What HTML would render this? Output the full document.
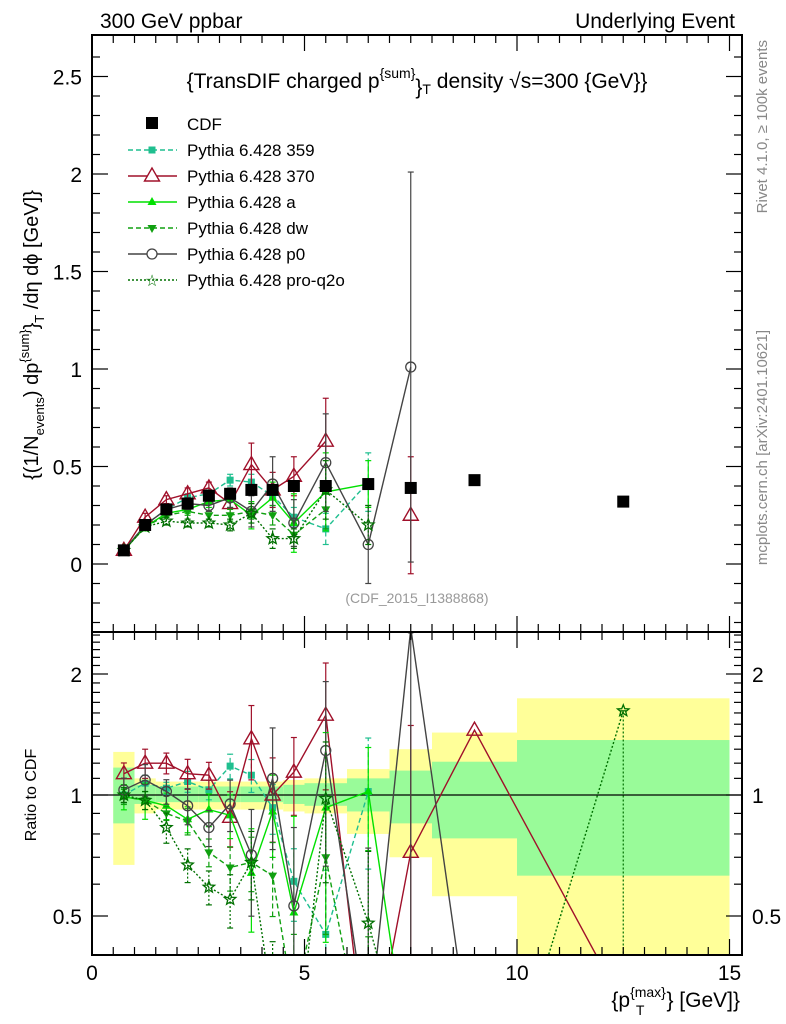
<!DOCTYPE html>
<html><head><meta charset="utf-8"><style>
html,body{margin:0;background:#fff;width:786px;height:1024px;overflow:hidden;position:relative}
svg{display:block;font-family:"Liberation Sans",sans-serif}
</style></head><body>
<svg id="c" width="786" height="1024" viewBox="0 0 786 1024" xmlns="http://www.w3.org/2000/svg" style="position:absolute;left:0;top:0"></svg>
<script>
const xs=[0.75,1.25,1.75,2.25,2.75,3.25,3.75,4.25,4.75,5.5,6.5,7.5,9,12.5];
const binLo=[0.5,1,1.5,2,2.5,3,3.5,4,4.5,5,6,7,8,10];
const binHi=[1,1.5,2,2.5,3,3.5,4,4.5,5,6,7,8,10,15];
const cdf=[0.07,0.20,0.28,0.31,0.35,0.36,0.38,0.38,0.40,0.40,0.41,0.39,0.43,0.32];
const bandGreenLo=[0.85,0.95,0.96,0.96,0.96,0.96,0.96,0.96,0.95,0.94,0.91,0.85,0.78,0.63];
const bandGreenHi=[1.17,1.06,1.05,1.05,1.05,1.05,1.05,1.05,1.06,1.07,1.10,1.15,1.21,1.37];
const bandYellowLo=[0.67,0.90,0.92,0.92,0.92,0.92,0.92,0.92,0.91,0.90,0.80,0.70,0.56,0.30];
const bandYellowHi=[1.28,1.10,1.08,1.08,1.08,1.08,1.08,1.08,1.09,1.10,1.16,1.30,1.43,1.74];
const m359=[0.07,0.20,0.28,0.34,0.36,0.43,0.42,0.35,0.24,0.18,0.42,null,null,null];
const m370=[0.07,0.24,0.33,0.36,0.39,0.31,0.51,0.38,0.45,0.63,null,0.25,null,null];
const mA=[0.07,0.19,0.26,0.28,0.32,0.33,0.25,0.34,0.21,0.37,0.41,null,null,null];
const mDW=[0.07,0.19,0.25,0.27,0.25,0.25,0.27,0.25,0.15,0.28,null,null,null,null];
const mP0=[0.07,0.20,0.28,0.31,0.30,0.34,0.27,0.41,0.21,0.52,0.10,1.01,null,null];
const mQ2O=[0.07,0.19,0.22,0.21,0.21,0.20,0.26,0.13,0.13,0.38,0.20,null,null,null];
const e359=[0.003,0.01,0.01,0.02,0.02,0.03,0.04,0.05,0.05,0.08,0.15,0,0,0];
const e370=[0.005,0.02,0.02,0.03,0.03,0.05,0.11,0.09,0.10,0.22,0,0.3,0,0];
const eA=[0.005,0.02,0.02,0.02,0.03,0.04,0.07,0.08,0.15,0.2,0.12,0,0,0];
const eDW=[0.003,0.01,0.01,0.02,0.02,0.03,0.04,0.05,0.06,0.1,0.1,0,0,0];
const eP0=[0.005,0.02,0.02,0.03,0.03,0.05,0.08,0.14,0.12,0.25,0.2,1.0,0,0];
const eQ2O=[0.003,0.01,0.02,0.02,0.02,0.03,0.05,0.05,0.05,0.15,0.1,0,0,0.5];
const r359=[1.00,1.07,1.04,1.08,1.03,1.18,1.12,0.93,0.61,0.45,1.02,null,null,null];
const r370=[1.13,1.20,1.20,1.13,1.12,0.88,1.38,1.00,1.14,1.58,0.2,0.72,1.45,0.3];
const rA=[0.99,0.97,0.94,0.87,0.92,0.89,0.64,0.91,0.51,0.93,1.02,0.2,null,null];
const rDW=[0.99,0.97,0.90,0.86,0.72,0.66,0.68,0.63,0.3,0.70,0.2,null,null,null];
const rP0=[1.03,1.09,1.02,0.94,0.83,0.95,0.71,1.10,0.53,1.29,0.25,2.6,0.2,null];
const rQ2O=[1.00,0.97,0.83,0.67,0.59,0.55,0.68,0.3,0.2,0.98,0.48,0.2,0.1,1.62];
const yTicks=[0,0.5,1,1.5,2,2.5];
const rTicks=[0.5,1,2];
const xTicks=[0,5,10,15];

const S=document.getElementById('c');const NS='http://www.w3.org/2000/svg';
function el(t,a,p){const e=document.createElementNS(NS,t);for(const k in a)e.setAttribute(k,a[k]);(p||S).appendChild(e);return e;}
const X0=92,X1=742;
const px=v=>92+v*42.5;
const py=v=>564-v*195;
const ry=v=>795-Math.log2(v)*121;
const MT=35,MB=632,RT=632,RB=955;
const defs=el('defs',{});
const c1=el('clipPath',{id:'cm'},defs);el('rect',{x:X0,y:MT,width:X1-X0,height:MB-MT},c1);
const c2=el('clipPath',{id:'cr'},defs);el('rect',{x:X0,y:RT,width:X1-X0,height:RB-RT},c2);
const gM=el('g',{'clip-path':'url(#cm)'});
const gR=el('g',{'clip-path':'url(#cr)'});
for(let i=0;i<xs.length;i++){
 const y=el('rect',{x:px(binLo[i]),width:px(binHi[i])-px(binLo[i]),y:ry(bandYellowHi[i]),height:ry(bandYellowLo[i])-ry(bandYellowHi[i]),fill:'#ffff99'},gR);
 
 const g=el('rect',{x:px(binLo[i]),width:px(binHi[i])-px(binLo[i]),y:ry(bandGreenHi[i]),height:ry(bandGreenLo[i])-ry(bandGreenHi[i]),fill:'#99fb99'},gR);
 
}
el('line',{x1:X0,x2:X1,y1:ry(1),y2:ry(1),stroke:'#000','stroke-width':1.3},gR);
function marker(g,type,x,y,col){
 let m;
 if(type=='sq')m=el('rect',{x:x-6,y:y-6,width:12,height:12,fill:col},g);
 else if(type=='ssq')m=el('rect',{x:x-3.5,y:y-3.5,width:7,height:7,fill:col},g);
 else if(type=='otri')m=el('polygon',{points:`${x},${y-8} ${x-7.5},${y+5} ${x+7.5},${y+5}`,fill:'none',stroke:col,'stroke-width':1.4},g);
 else if(type=='tri')m=el('polygon',{points:`${x},${y-5} ${x-4.5},${y+3} ${x+4.5},${y+3}`,fill:col},g);
 else if(type=='dtri')m=el('polygon',{points:`${x},${y+5} ${x-4.5},${y-3} ${x+4.5},${y-3}`,fill:col},g);
 else if(type=='circ')m=el('circle',{cx:x,cy:y,r:5,fill:'none',stroke:col,'stroke-width':1.3},g);
 else if(type=='star'){let p=[];for(let k=0;k<10;k++){const r=k%2?2.6:6,a=-Math.PI/2+k*Math.PI/5;p.push((x+r*Math.cos(a)).toFixed(1)+','+(y+r*Math.sin(a)).toFixed(1));}
  m=el('polygon',{points:p.join(' '),fill:'none',stroke:col,'stroke-width':1.3},g);}
 
}
const series=[
 {n:'pythia-359',m:m359,r:r359,e:e359,col:'#1fbf8f',dash:'5,3',mk:'ssq'},
 {n:'pythia-370',m:m370,r:r370,e:e370,col:'#a0102a',dash:null,mk:'otri'},
 {n:'pythia-a',m:mA,r:rA,e:eA,col:'#00e000',dash:null,mk:'tri'},
 {n:'pythia-dw',m:mDW,r:rDW,e:eDW,col:'#10a010',dash:'5,3',mk:'dtri'},
 {n:'pythia-p0',m:mP0,r:rP0,e:eP0,col:'#444',dash:null,mk:'circ'},
 {n:'pythia-pro-q2o',m:mQ2O,r:rQ2O,e:eQ2O,col:'#007000',dash:'2,2',mk:'star'}];
for(const s of series){
 for(const [g,arr,f,isR] of [[gM,s.m,py,false],[gR,s.r,ry,true]]){
  const grp=el('g',{},g);
  let d='';let pen=false;
  arr.forEach((v,i)=>{if(v==null){pen=false;return;}d+=(pen?'L':'M')+px(xs[i]).toFixed(1)+','+f(v).toFixed(1);pen=true;});
  const a={d:d,fill:'none',stroke:s.col,'stroke-width':1.4};if(s.dash)a['stroke-dasharray']=s.dash;el('path',a,grp);
  arr.forEach((v,i)=>{if(v==null)return;
   const err=s.e[i];
   let y1,y2;if(isR){const c=cdf[i];y1=ry(Math.max(0.05,(v*c-err)/c));y2=ry(v+Math.min(err,0.01)/c*(err>0.3?0:1));}else{y1=py(v-err);y2=py(v+err);}
   if(isR){const c=cdf[i];y2=err>0.3&&v>1?f(v):ry((v*c+err)/c);}
   if(err>0){
   const ea={x1:px(xs[i]),x2:px(xs[i]),y1:y1,y2:y2,stroke:s.col,'stroke-width':1.2};if(s.dash)ea['stroke-dasharray']=s.dash;el('line',ea,grp);
   el('line',{x1:px(xs[i])-3,x2:px(xs[i])+3,y1:y2,y2:y2,stroke:s.col,'stroke-width':1.2},grp);
   el('line',{x1:px(xs[i])-3,x2:px(xs[i])+3,y1:y1,y2:y1,stroke:s.col,'stroke-width':1.2},grp);}
   marker(grp,s.mk,px(xs[i]),f(v),s.col);});
 }
}
const gc=el('g',{},gM);
cdf.forEach((v,i)=>marker(gc,'sq',px(xs[i]),py(v),'#000'));
el('rect',{x:X0,y:MT,width:X1-X0,height:MB-MT,fill:'none',stroke:'#000','stroke-width':2});
el('rect',{x:X0,y:RT,width:X1-X0,height:RB-RT,fill:'none',stroke:'#000','stroke-width':2});
function T(x1,y1,x2,y2){el('line',{x1,y1,x2,y2,stroke:'#000','stroke-width':1.2});}
for(let v=-0.3;v<=2.7;v+=0.1){const y=py(v);const maj=Math.abs(v*2-Math.round(v*2))<1e-6;const L=maj?16:8;T(X0,y,X0+L,y);T(X1,y,X1-L,y);}
yTicks.forEach(v=>{const t=el('text',{x:82,y:py(v)+8,'text-anchor':'end','font-size':21},S);t.textContent=v;});
const rv=[0.4,0.5,0.6,0.7,0.8,0.9,1,1.1,1.2,1.3,1.4,1.5,1.6,1.7,1.8,1.9,2,2.1,2.2,2.3,2.4,2.5];
rv.forEach(v=>{const y=ry(v);if(y<RT||y>RB)return;const maj=rTicks.includes(v);const L=maj?16:8;T(X0,y,X0+L,y);T(X1,y,X1-L,y);});
rTicks.forEach(v=>{for(const [x,anc] of [[82,'end'],[752,'start']]){const t=el('text',{x:x,y:ry(v)+8,'text-anchor':anc,'font-size':21});t.textContent=v;}});
for(let v=0;v<=15.2;v+=0.5){const x=px(v);const maj=Math.abs(v%5)<1e-6;const L=maj?16:8;T(x,MB,x,MB-L);T(x,MT,x,MT+L);T(x,RB,x,RB-L);T(x,RT,x,RT+L);}
xTicks.forEach(v=>{const t=el('text',{x:px(v),y:980,'text-anchor':'middle','font-size':21});t.textContent=v;});
</script>
<svg style="position:absolute;left:0;top:0" width="786" height="1024">
<text x="100" y="28" font-size="21" font-family="Liberation Sans">300 GeV ppbar</text>
<text x="735" y="28" font-size="21" text-anchor="end" font-family="Liberation Sans">Underlying Event</text>
<text x="417" y="88" font-size="21" text-anchor="middle" font-family="Liberation Sans">{TransDIF charged p<tspan dy="-10" font-size="14">{sum}</tspan><tspan dy="16">}</tspan><tspan dy="0" font-size="14">T</tspan><tspan dy="-6"> density √s=300 {GeV}}</tspan></text>
<text x="417" y="603" font-size="14" fill="#999" text-anchor="middle" font-family="Liberation Sans">(CDF_2015_I1388868)</text>
<text transform="translate(767,40) rotate(-90)" font-size="15" fill="#888" text-anchor="end" font-family="Liberation Sans">Rivet 4.1.0, ≥ 100k events</text>
<text transform="translate(767,330) rotate(-90)" font-size="15" fill="#888" text-anchor="end" font-family="Liberation Sans">mcplots.cern.ch [arXiv:2401.10621]</text>
<text transform="translate(38,335) rotate(-90)" font-size="20" text-anchor="middle" font-family="Liberation Sans">{(1/N<tspan font-size="13" dy="6">events</tspan><tspan dy="-6">) dp</tspan><tspan font-size="13" dy="-9">{sum}</tspan><tspan dy="9">}</tspan><tspan font-size="13" dy="6">T</tspan><tspan dy="-6"> /dη  dϕ [GeV]}</tspan></text>
<text transform="translate(36,795) rotate(-90)" font-size="16" text-anchor="middle" font-family="Liberation Sans">Ratio to CDF</text>
<text x="740" y="1007" font-size="21" text-anchor="end" font-family="Liberation Sans">{p<tspan font-size="14" dy="-10">{max}</tspan><tspan font-size="14" dy="18" dx="-30">T</tspan><tspan dy="-8" dx="22">} [GeV]}</tspan></text>
<g font-family="Liberation Sans" font-size="17">
<rect x="146" y="117" width="12" height="12" fill="#000"/><text x="187" y="130">CDF</text>
<line x1="128" x2="177" y1="150" y2="150" stroke="#1fbf8f" stroke-width="1.4" stroke-dasharray="5,3"/><rect x="148.5" y="146.5" width="7" height="7" fill="#1fbf8f"/><text x="187" y="156">Pythia 6.428 359</text>
<line x1="128" x2="177" y1="176" y2="176" stroke="#a0102a" stroke-width="1.4"/><polygon points="152,168 144.5,181 159.5,181" fill="#fff" stroke="#a0102a" stroke-width="1.4"/><text x="187" y="182">Pythia 6.428 370</text>
<line x1="128" x2="177" y1="202" y2="202" stroke="#00e000" stroke-width="1.4"/><polygon points="152,197 147.5,205 156.5,205" fill="#00e000"/><text x="187" y="208">Pythia 6.428 a</text>
<line x1="128" x2="177" y1="228" y2="228" stroke="#10a010" stroke-width="1.4" stroke-dasharray="5,3"/><polygon points="152,233 147.5,225 156.5,225" fill="#10a010"/><text x="187" y="234">Pythia 6.428 dw</text>
<line x1="128" x2="177" y1="254" y2="254" stroke="#444" stroke-width="1.4"/><circle cx="152" cy="254" r="5" fill="#fff" stroke="#444" stroke-width="1.3"/><text x="187" y="260">Pythia 6.428 p0</text>
<line x1="128" x2="177" y1="280" y2="280" stroke="#007000" stroke-width="1.4" stroke-dasharray="2,2"/><text x="152" y="286" font-size="16" text-anchor="middle" fill="#007000">☆</text><text x="187" y="286">Pythia 6.428 pro-q2o</text>
</g>
</svg>
</body></html>
